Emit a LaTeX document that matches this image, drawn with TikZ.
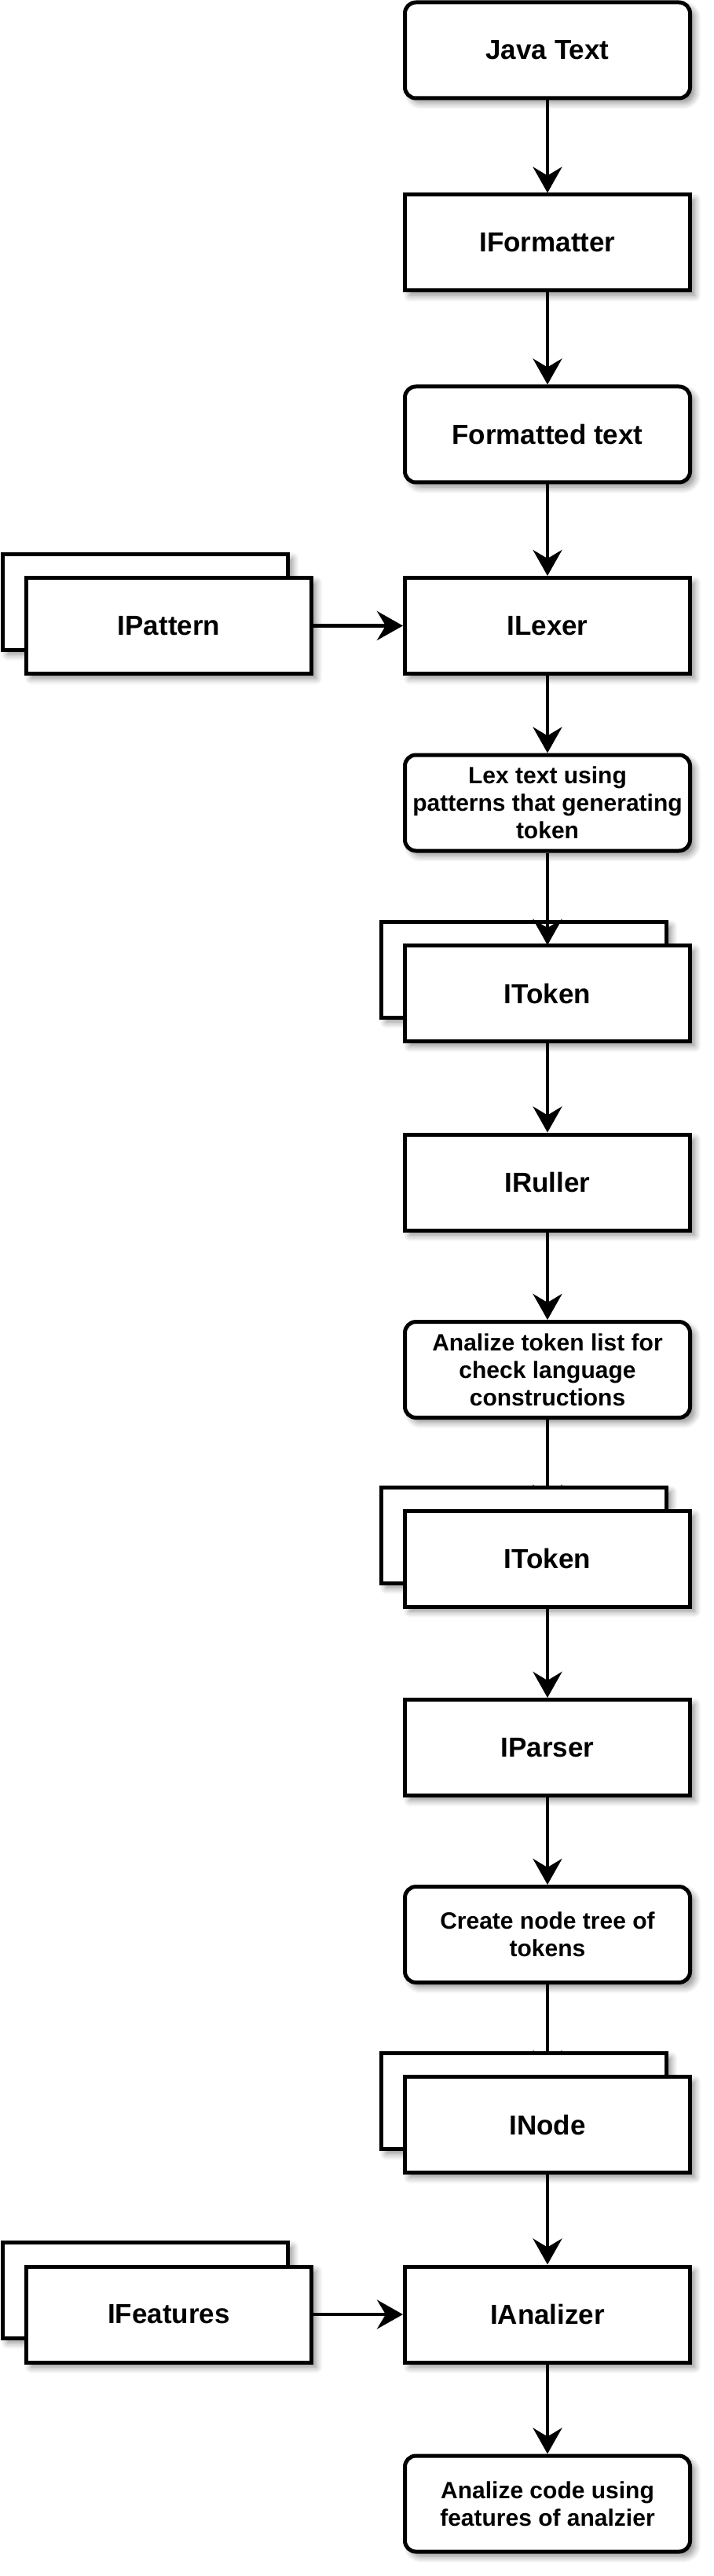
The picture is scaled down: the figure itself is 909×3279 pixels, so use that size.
\documentclass[tikz,border=0pt]{standalone}
\usepackage{fontspec}
\setmainfont{Liberation Sans}
\usetikzlibrary{arrows.meta,shadows.blur}
\tikzset{
  box/.style={draw=black, line width=2.5pt, fill=white, minimum width=181.5pt, minimum height=61pt,
    inner sep=2pt, align=center, font=\bfseries\fontsize{17.5}{21}\selectfont,
    blur shadow={shadow xshift=3pt, shadow yshift=-3pt, shadow blur radius=4pt, shadow opacity=45, shadow blur steps=8}},
  rbox/.style={box, rounded corners=7pt},
  small/.style={font=\bfseries\fontsize{15}{17.5}\selectfont},
  conn/.style={line width=2.2pt, -{Stealth[length=16.5pt, width=18.5pt, inset=5.5pt]}},
}
\begin{document}
\begin{tikzpicture}[x=0.5pt, y=-0.5pt]
\useasboundingbox (0,0) rectangle (909,3279);
% top chain
\node[rbox] (java) at (697,64) {Java Text};
\node[box] (ifmt) at (697,309) {IFormatter};
\node[rbox] (ftext) at (697,553) {Formatted text};
\node[box] (ilexer) at (697,796.5) {ILexer};
\node[box] (ipatb) at (185,766) {};
\node[box] (ipat) at (215,796.5) {IPattern};
\draw[conn] (java) -- (ifmt);
\draw[conn] (ifmt) -- (ftext);
\draw[conn] (ftext) -- (ilexer);
\draw[conn] (ipat) -- (ilexer);
\node[rbox, small] (lex) at (697,1022) {Lex text using\\patterns that generating\\token};
\draw[conn] (ilexer) -- (lex);
% ITokens 1
\node[box] (itokab) at (667,1234) {};
\coordinate (itokatop) at (697,1203);
\draw[conn] (lex) -- (itokatop);
\node[box] (itoka) at (697,1264.5) {IToken};
\node[box] (irul) at (697,1505) {IRuller};
\draw[conn] (itoka) -- (irul);
\node[rbox, small] (antok) at (697,1743.5) {Analize token list for\\check language\\constructions};
\draw[conn] (irul) -- (antok);
% ITokens 2
\coordinate (itokbtop) at (697,1923);
\draw[conn] (antok) -- (itokbtop);
\node[box] (itokbb) at (667,1954) {};
\node[box] (itokb) at (697,1984) {IToken};
\node[box] (ipars) at (697,2224.5) {IParser};
\draw[conn] (itokb) -- (ipars);
\node[rbox, small] (create) at (697,2462.5) {Create node tree of\\tokens};
\draw[conn] (ipars) -- (create);
% INode
\coordinate (inodetop) at (697,2643);
\draw[conn] (create) -- (inodetop);
\node[box] (inodeb) at (667,2674.5) {};
\node[box] (inode) at (697,2704.5) {INode};
\node[box] (ianal) at (697,2946) {IAnalizer};
\draw[conn] (inode) -- (ianal);
\node[box] (ifeatb) at (185,2915) {};
\node[box] (ifeat) at (215,2946) {IFeatures};
\draw[conn] (ifeat) -- (ianal);
\node[rbox, small] (code) at (697,3187) {Analize code using\\features of analzier};
\draw[conn] (ianal) -- (code);
\end{tikzpicture}
\end{document}
